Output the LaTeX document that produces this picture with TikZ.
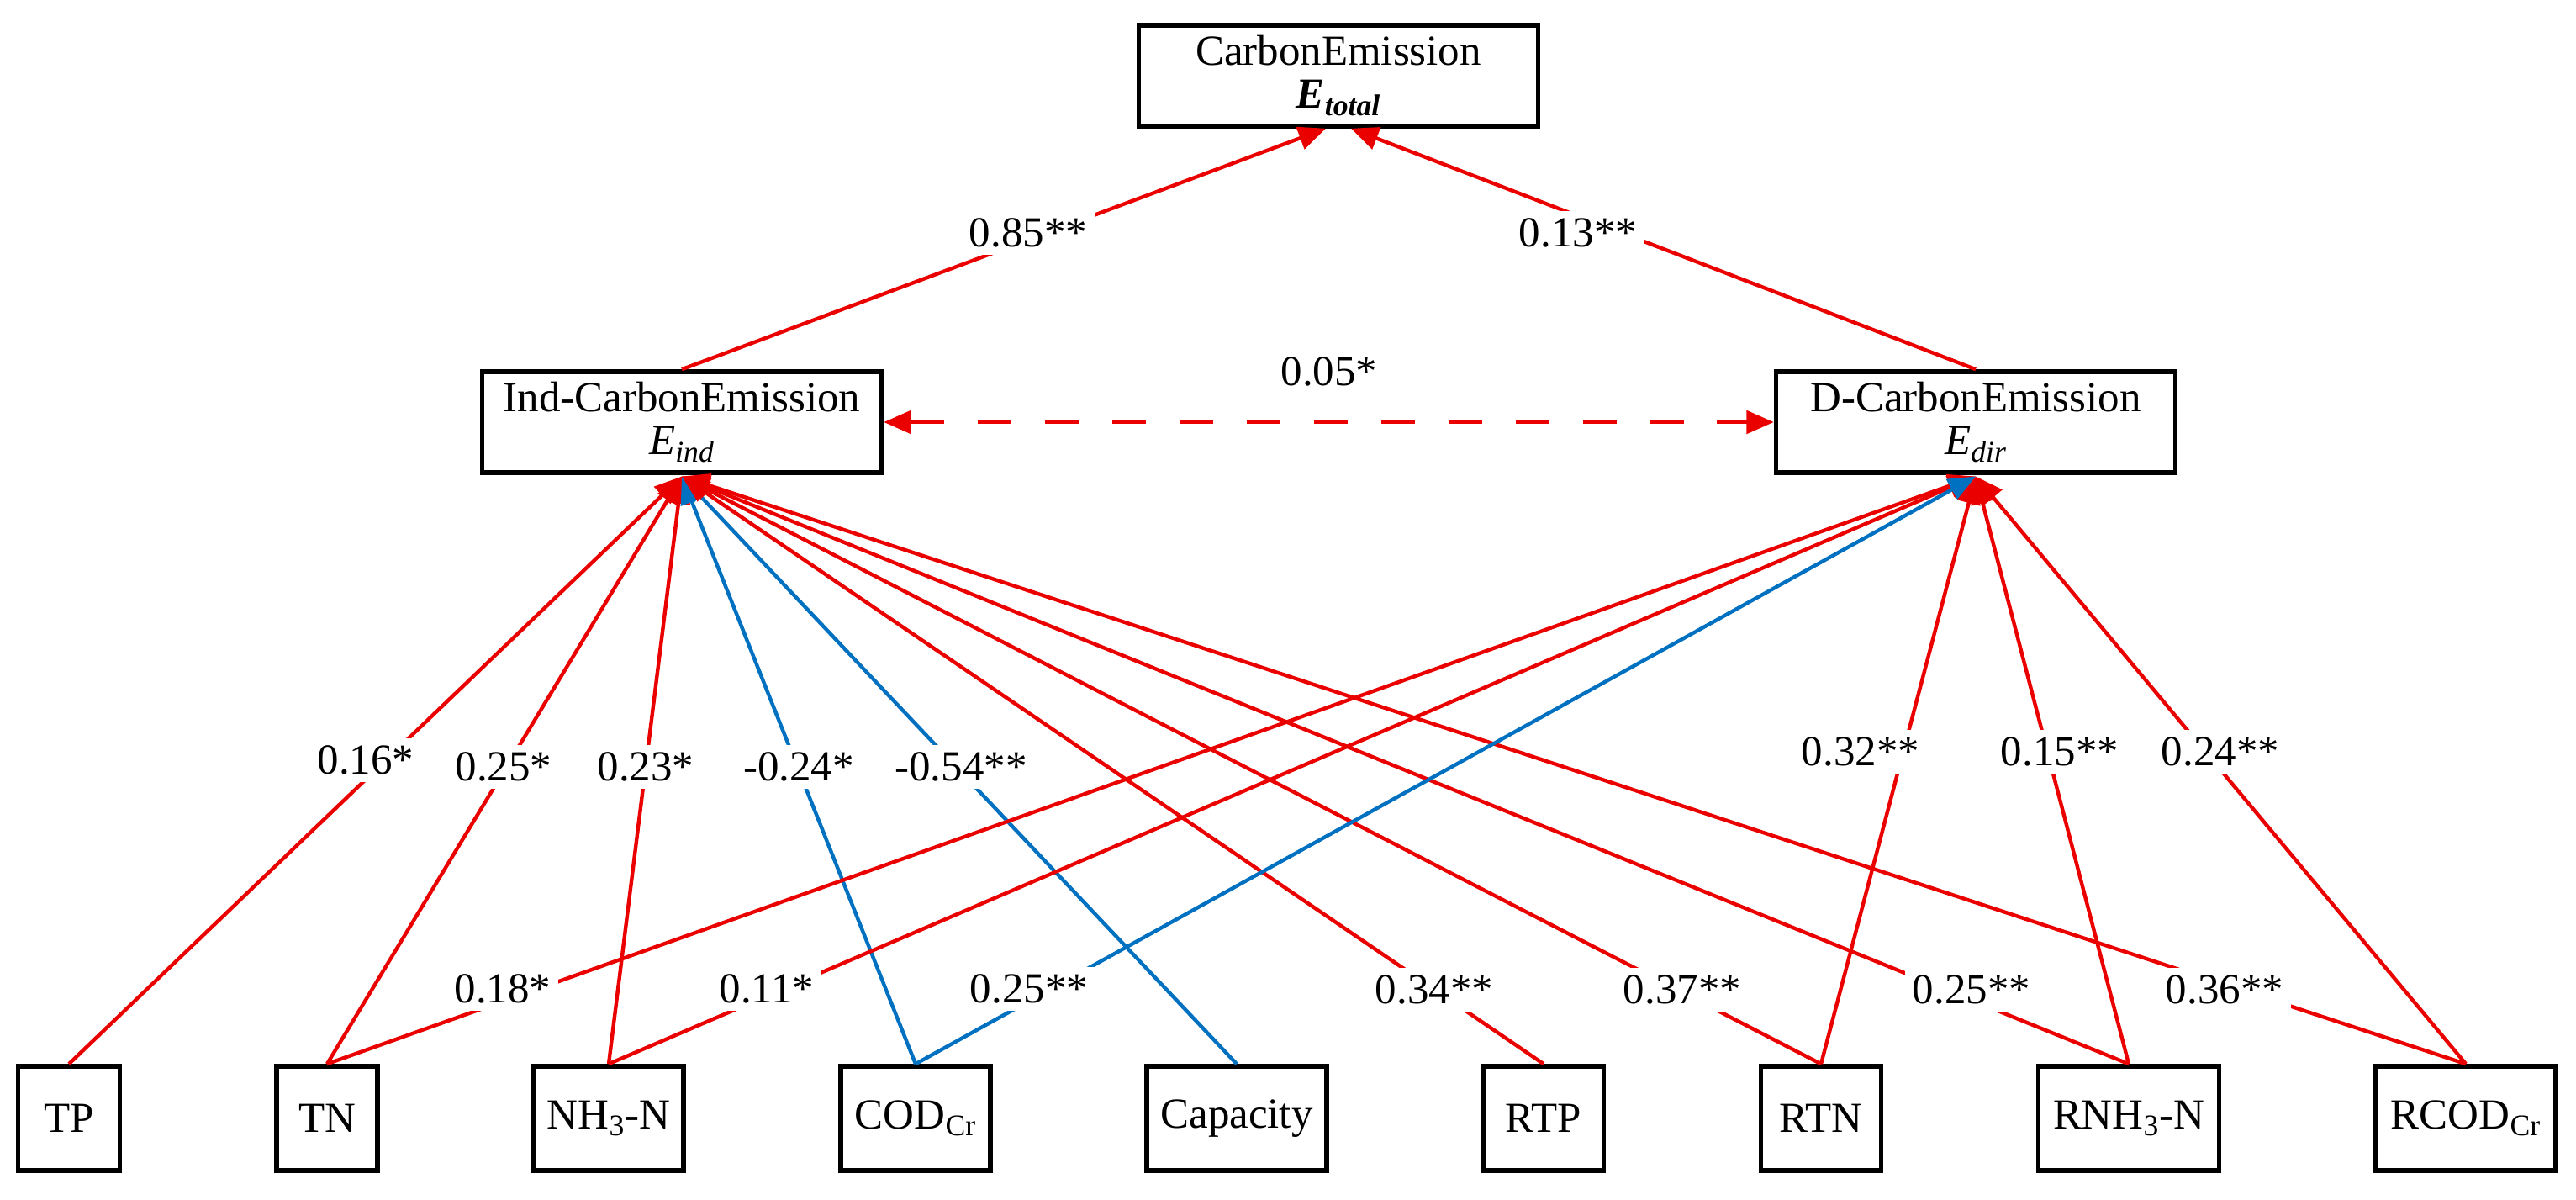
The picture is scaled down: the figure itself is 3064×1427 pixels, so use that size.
\documentclass[tikz,border=0pt]{standalone}
\usepackage{fontspec}
\setmainfont{Liberation Serif}
\usetikzlibrary{arrows.meta}
\definecolor{myred}{RGB}{235,0,0}
\definecolor{myblue}{RGB}{0,112,192}
\begin{document}
\begin{tikzpicture}[x=0.02cm,y=-0.02cm,
  font=\fontsize{29}{33}\selectfont,
  box/.style={draw=black,line width=3.2pt,fill=white,align=center,inner sep=0pt,minimum height=2.48cm},
  big/.style={box,minimum width=9.5cm,minimum height=2.4cm},
  lab/.style={fill=white,inner sep=5pt},
  tip/.style={-{Triangle[length=0.65cm,width=0.55cm]}},
  rl/.style={draw=myred,line width=2.5pt,tip},
  bl/.style={draw=myblue,line width=2.5pt,tip}]
\useasboundingbox (0,0) rectangle (3064,1427);
\node[big] (top) at (1592,90) {CarbonEmission\\[-4pt]\textbf{\textit{E}}\textsubscript{\textbf{\textit{total}}}};
\node[big] (ind) at (811,502) {Ind-CarbonEmission\\[-4pt]\textit{E}\textsubscript{\textit{ind}}};
\node[big] (dir) at (2350,502) {D-CarbonEmission\\[-4pt]\textit{E}\textsubscript{\textit{dir}}};
\node[box,minimum width=2.42cm] (tp) at (82,1330) {TP};
\node[box,minimum width=2.4cm] (tn) at (389,1330) {TN};
\node[box,minimum width=3.56cm] (nh) at (724,1330) {NH\textsubscript{3}-N};
\node[box,minimum width=3.56cm] (cod) at (1089,1330) {COD\textsubscript{Cr}};
\node[box,minimum width=4.28cm] (cap) at (1471,1330) {Capacity};
\node[box,minimum width=2.86cm] (rtp) at (1836,1330) {RTP};
\node[box,minimum width=2.86cm] (rtn) at (2166,1330) {RTN};
\node[box,minimum width=4.3cm] (rnh) at (2532,1330) {RNH\textsubscript{3}-N};
\node[box,minimum width=4.28cm] (rcod) at (2933,1330) {RCOD\textsubscript{Cr}};
\coordinate (ib) at ([yshift=-1pt]ind.south);
\coordinate (db) at ([yshift=-1pt]dir.south);
% top
\draw[rl] (ind.north) -- ([xshift=-0.3cm]top.south);
\draw[rl] (dir.north) -- ([xshift=0.3cm]top.south);
\draw[myred,line width=2.5pt,dash pattern=on 0.8cm off 0.8cm,{Triangle[length=0.65cm,width=0.55cm]}-{Triangle[length=0.65cm,width=0.55cm]}] (ind.east) -- (dir.west);
% to ind
\draw[rl] (tp.north) -- (ib);
\draw[rl] (tn.north) -- (ib);
\draw[rl] (nh.north) -- (ib);
\draw[bl] (cod.north) -- (ib);
\draw[bl] (cap.north) -- (ib);
\draw[rl] (rtp.north) -- (ib);
\draw[rl] (rtn.north) -- (ib);
\draw[rl] (rnh.north) -- (ib);
\draw[rl] (rcod.north) -- (ib);
% to dir
\draw[rl] (tn.north) -- (db);
\draw[rl] (nh.north) -- (db);
\draw[bl] (cod.north) -- (db);
\draw[rl] (rtn.north) -- (db);
\draw[rl] (rnh.north) -- (db);
\draw[rl] (rcod.north) -- (db);
% labels
\node[lab] (l1) at (1223,277) {0.85**};
\node[lab] (l2) at (1877,277) {0.13**};
\node[lab] (l3) at (1581,442) {0.05*};
\node[lab] (l4) at (435,904) {0.16*};
\node[lab] (l5) at (599,912) {0.25*};
\node[lab] (l6) at (768,912) {0.23*};
\node[lab] (l7) at (950,912) {-0.24*};
\node[lab] (l8) at (1143,912) {-0.54**};
\node[lab] (l9) at (598,1176) {0.18*};
\node[lab] (l10) at (912,1176) {0.11*};
\node[lab] (l11) at (1224,1176) {0.25**};
\node[lab] (l12) at (1706,1177) {0.34**};
\node[lab] (l13) at (2001,1177) {0.37**};
\node[lab] (l14) at (2345,1177) {0.25**};
\node[lab] (l15) at (2646,1177) {0.36**};
\node[lab] (l16) at (2213,894) {0.32**};
\node[lab] (l17) at (2450,894) {0.15**};
\node[lab] (l18) at (2641,894) {0.24**};
\end{tikzpicture}
\end{document}
